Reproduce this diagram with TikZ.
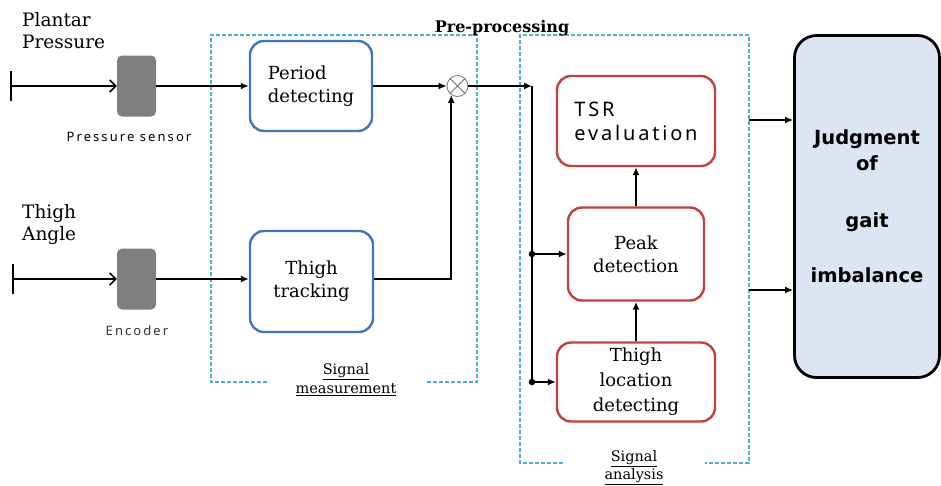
\documentclass[tikz,border=0pt]{standalone}
\usepackage{fontspec}
\setmainfont{DejaVu Serif}
\newfontfamily\snsfont[LetterSpace=16]{Noto Sans}
\newfontfamily\tsrfont[LetterSpace=14]{Noto Sans}
\newfontfamily\jfont{DejaVu Sans}
\usetikzlibrary{arrows.meta}
\definecolor{bbl}{HTML}{3F74C2}
\definecolor{rrd}{HTML}{C4403F}
\definecolor{cyn}{HTML}{4BB0D2}
\definecolor{sgray}{HTML}{7F7F7F}
\definecolor{jfill}{HTML}{DCE6F2}
\tikzset{
  bluebox/.style={draw=bbl, line width=2.4pt, rounded corners=14pt, fill=white, inner sep=0pt},
  redbox/.style={draw=rrd, line width=2.4pt, rounded corners=14pt, fill=white, inner sep=0pt},
  sensorbox/.style={fill=sgray, rounded corners=5pt, minimum width=39pt, minimum height=61pt, inner sep=0pt},
  grpbox/.style={draw=cyn, line width=1.3pt, dash pattern=on 4pt off 2pt},
  conn/.style={line width=1.8pt, -{Latex[length=8pt,width=7pt]}},
  plain/.style={line width=1.8pt},
  inarrow/.style={line width=1.5pt, {Bar[width=30pt]}-{Straight Barb[length=6pt,width=12pt]}},
  serif18/.style={font=\fontsize{18}{23}\selectfont},
  lbl/.style={font=\fontsize{18.5}{22}\selectfont, align=left, inner sep=0pt},
  dot/.style={circle, fill=black, inner sep=0pt, minimum size=6.5pt}
}
\begin{document}
\begin{tikzpicture}[x=1pt,y=-1pt]
\useasboundingbox (0,0) rectangle (941,485);

% group boxes
\draw[grpbox] (267,382) -- (211,382) -- (211,35) -- (477,35) -- (477,382) -- (425,382);
\draw[grpbox] (563,463) -- (520,463) -- (520,35) -- (749,35) -- (749,463) -- (705,463);
\node[font=\bfseries\fontsize{16}{18}\selectfont, inner sep=0pt] (pre) at (502,28) {Pre-processing};
\node[font=\fontsize{14.5}{19}\selectfont, align=center, inner sep=0pt] (smlbl) at (346,380) {\underline{Signal}\\\underline{measurement}};
\node[font=\fontsize{14.5}{18}\selectfont, align=center, inner sep=0pt] (salbl) at (634,468) {\underline{Signal}\\\underline{analysis}};

% input labels
\node[lbl, anchor=north west] (pp) at (22,12) {Plantar\\Pressure};
\node[lbl, anchor=north west] (ta) at (22,204) {Thigh\\Angle};

% sensors
\node[sensorbox] (s1) at (136.5,86) {};
\node[sensorbox] (s2) at (136.5,279) {};
\node[font=\snsfont\fontsize{13}{15}\selectfont, inner sep=0pt] (s1l) at (129,137) {Pressure sensor};
\node[font=\snsfont\fontsize{13}{15}\selectfont, text=black!80, inner sep=0pt] (s2l) at (137,331) {Encoder};

\coordinate (in1) at (10,86);
\coordinate (in2) at (12,279);
\draw[inarrow] (in1) -- (s1.west);
\draw[inarrow] (in2) -- (s2.west);

% measurement boxes
\node[bluebox, minimum width=122pt, minimum height=90pt, serif18, align=left] (pd) at (311,86) {Period\\detecting};
\node[bluebox, minimum width=123pt, minimum height=101pt, serif18, align=center] (tt) at (311.5,281.5) {Thigh\\tracking};

\draw[conn] (s1.east) -- (pd.west);
\draw[conn] (s2.east) -- (tt.west |- s2.east);

% multiplier
\node[circle, draw=black!55, line width=0.8pt, minimum size=21pt, inner sep=0pt,
  path picture={\draw[black!55, line width=0.8pt] (path picture bounding box.north west) -- (path picture bounding box.south east)
   (path picture bounding box.north east) -- (path picture bounding box.south west);}] (mult) at (457.5,86) {};

\draw[conn] (pd.east) -- (mult.west);
\draw[conn] (tt.east |- s2.east) -| (mult.235);

% analysis boxes
\node[redbox, minimum width=158pt, minimum height=90pt, font=\tsrfont\fontsize{20}{24}\selectfont, align=left] (tsr) at (636,121) {TSR\\evaluation};
\node[redbox, minimum width=136pt, minimum height=93pt, serif18, align=center] (peak) at (636,254) {Peak\\detection};
\node[redbox, minimum width=158pt, minimum height=79pt, font=\fontsize{18}{25}\selectfont, align=center] (tld) at (636,382) {Thigh\\location\\detecting};

\coordinate (br) at (532,86);
\node[dot] (d1) at (532,254) {};
\node[dot] (d2) at (532,382) {};
\draw[conn] (mult.east) -- (br);
\draw[plain] (br) -- (d2.center);
\draw[conn] (d1.center) -- (peak.west);
\draw[conn] (d2.center) -- (tld.west);
\draw[conn] (peak.north) -- (tsr.south);
\draw[conn] (tld.north) -- (peak.south);

% judgment
\node[draw=black, line width=2.8pt, rounded corners=22pt, fill=jfill, minimum width=145pt, minimum height=342pt, inner sep=0pt,
  font=\jfont\bfseries\fontsize{19.5}{24}\selectfont, align=center] (judg) at (867,206.5) {Judgment\\[2pt]of\\[33pt]gait\\[31pt]imbalance};
\coordinate (o1) at (749,120);
\coordinate (o2) at (749,290);
\draw[conn] (o1) -- (o1 -| judg.west);
\draw[conn] (o2) -- (o2 -| judg.west);
\end{tikzpicture}
\end{document}
